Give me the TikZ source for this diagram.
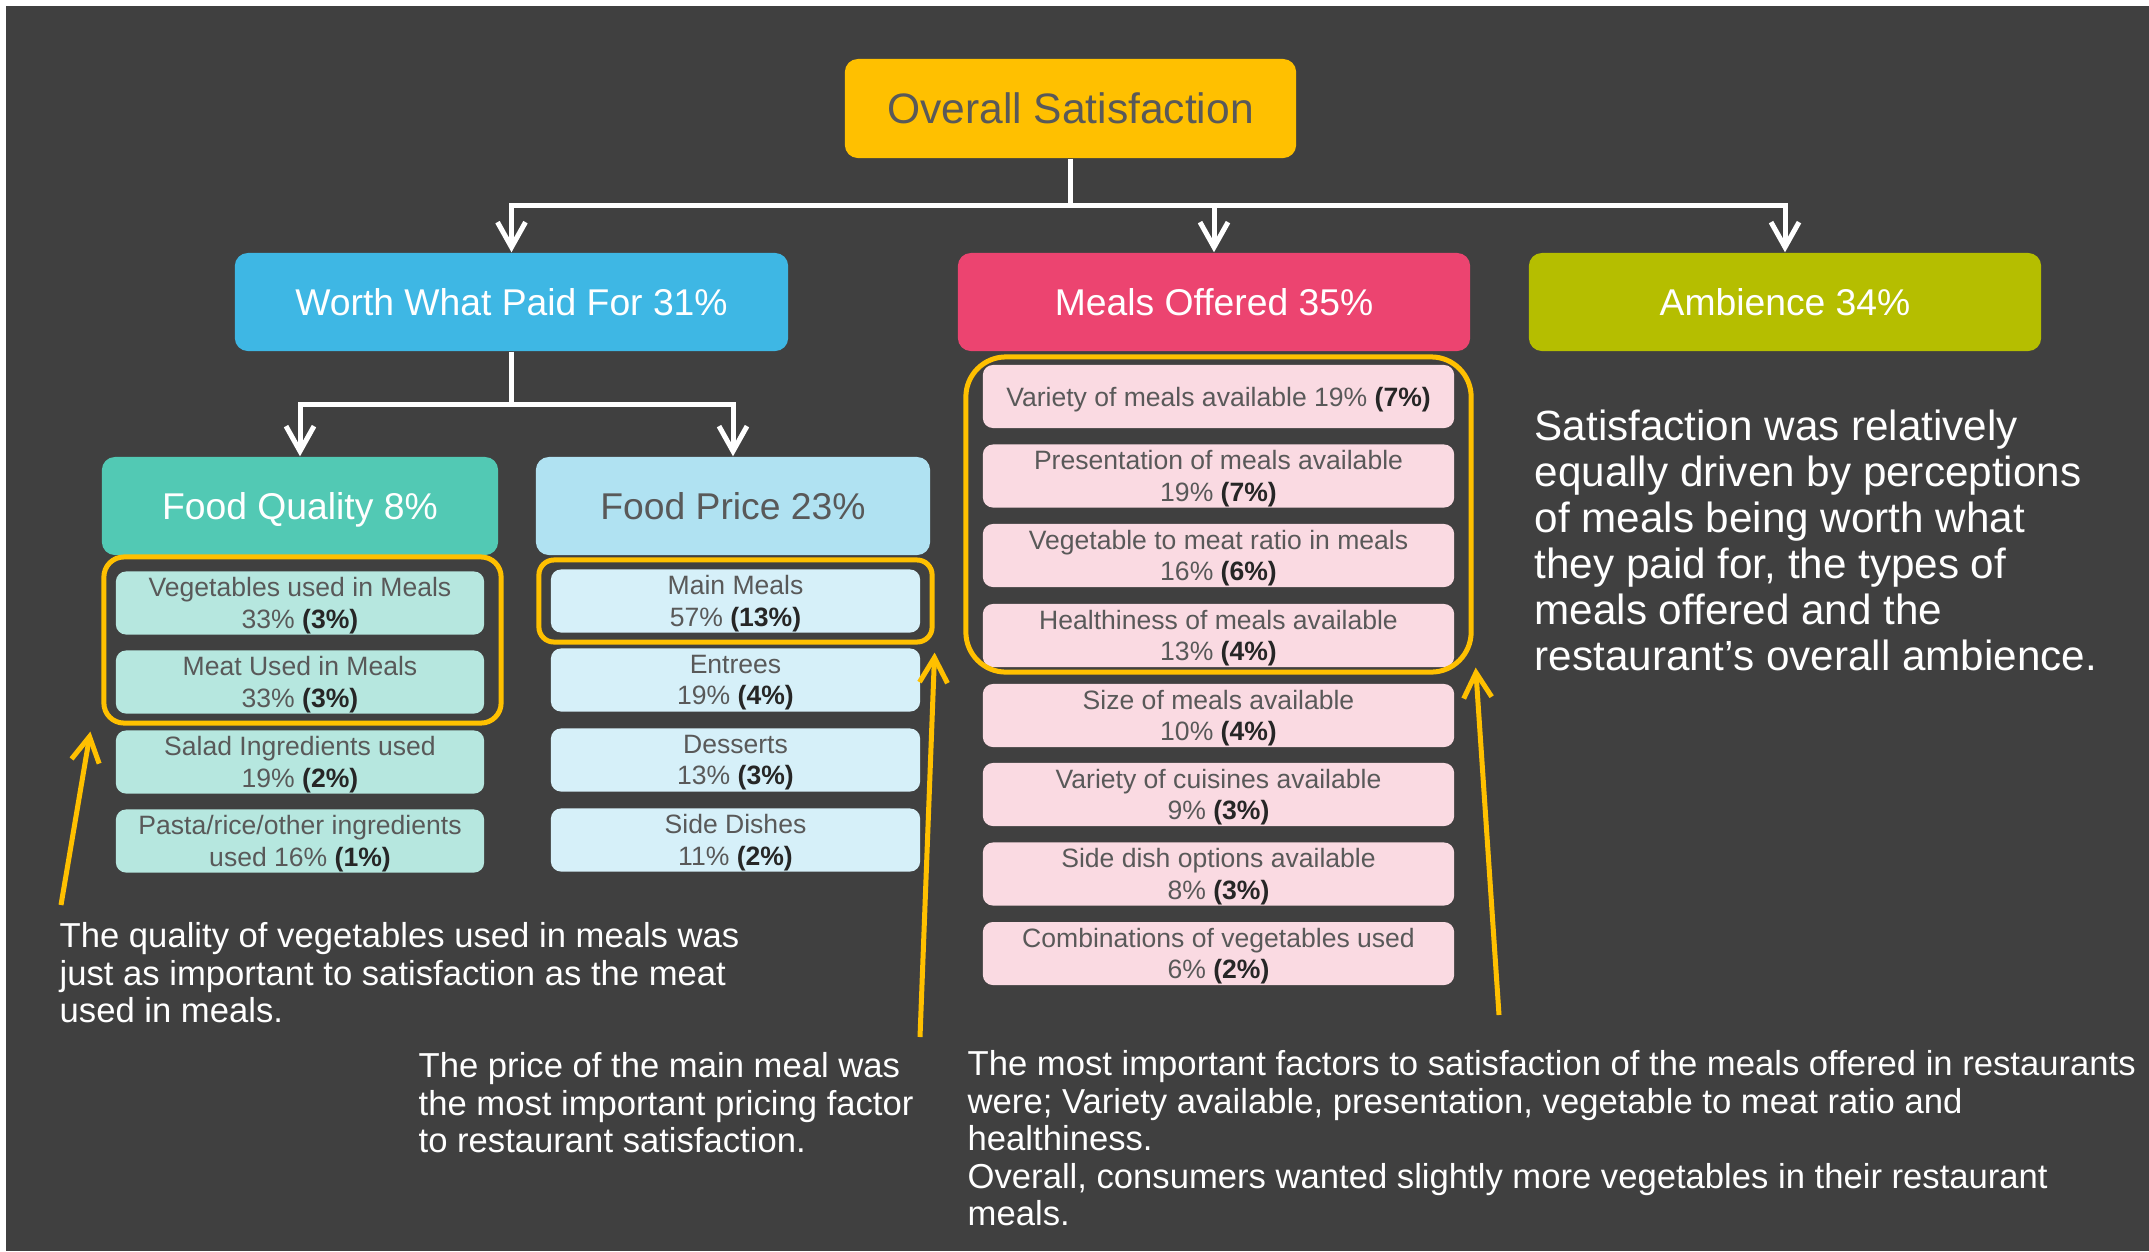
\documentclass[tikz,border=0pt]{standalone}
\usepackage{fontspec}
\setmainfont{Liberation Sans}
\usepackage{tikz}
\usetikzlibrary{arrows.meta,positioning,calc}
\definecolor{bgdark}{HTML}{404040}
\definecolor{gold}{HTML}{FFC000}
\definecolor{txtgray}{HTML}{595959}
\definecolor{txtdark}{HTML}{262626}
\definecolor{worthblue}{HTML}{3EB7E4}
\definecolor{mealred}{HTML}{EC4470}
\definecolor{ambgreen}{HTML}{B5BE00}
\definecolor{qualgreen}{HTML}{52C9B4}
\definecolor{priceblue}{HTML}{B0E2F2}
\definecolor{qualsub}{HTML}{B6E7DF}
\definecolor{pricesub}{HTML}{D6F0F9}
\definecolor{mealsub}{HTML}{FADAE2}
\newcommand{\pc}[1]{\textbf{\color{txtdark}#1}}

\begin{document}
\begin{tikzpicture}[x=0.01cm, y=-0.01cm,
  root/.style={rounded corners=1.3mm, fill=gold, text=txtgray,
    minimum width=4.51cm, minimum height=0.99cm, text depth=0pt,
    font=\fontsize{12.1}{14}\selectfont},
  branch/.style={rounded corners=1.3mm, text=white, text depth=0pt,
    minimum width=5.12cm, minimum height=0.98cm,
    font=\fontsize{10.6}{12.6}\selectfont},
  factor/.style={rounded corners=1.3mm, minimum width=3.96cm, text depth=0pt,
    minimum height=0.98cm, font=\fontsize{10.6}{12.6}\selectfont},
  leaf/.style={rounded corners=1mm, text=txtgray, align=center,
    inner sep=0pt, minimum height=0.63cm, text depth=0pt,
    font=\fontsize{7.55}{9}\selectfont},
  ring/.style={draw=gold, line width=0.05cm},
  link/.style={draw=white, line width=0.05cm,
    -{Straight Barb[length=2.5mm, width=2.8mm]}},
  pointer/.style={draw=gold, line width=0.05cm,
    -{Straight Barb[length=2.5mm, width=2.8mm]}},
  note/.style={text=white, align=left, inner sep=0pt, anchor=north west,
    font=\fontsize{9.85}{10.67}\selectfont}
]
  \useasboundingbox (0,0) rectangle (2149,1251);
  \fill[white] (0,0) rectangle (2149,1251);
  \fill[bgdark] (6,6) rectangle (2149,1251);

  % Hierarchy
  \node[root] (overall) at (1070.5,108.5) {Overall Satisfaction};
  \node[branch, fill=worthblue, minimum width=5.53cm] (worth) at (511.5,302) {Worth What Paid For 31\%};
  \node[branch, fill=mealred] (meals) at (1214,302) {Meals Offered 35\%};
  \node[branch, fill=ambgreen] (ambience) at (1785,302) {Ambience 34\%};
  \node[factor, fill=qualgreen, text=white] (quality) at (300,506) {Food Quality 8\%};
  \node[factor, fill=priceblue, text=txtgray, minimum width=3.94cm] (price) at (733,506) {Food Price 23\%};

  % Tree arrows
  \coordinate (bus) at (1070.5,205);
  \coordinate (bus2) at (511.5,404);
  \draw[link] (overall.south) -- (bus) -| (worth.north);
  \draw[link] (bus) -| (meals.north);
  \draw[link] (bus) -| (ambience.north);
  \draw[link] (worth.south) -- (bus2) -| (quality.north);
  \draw[link] (bus2) -| (price.north);

  % Food quality items
  \node[leaf, fill=qualsub, minimum width=3.68cm] (veg) at (300,603) {Vegetables used in Meals\\33\% \pc{(3\%)}};
  \node[leaf, fill=qualsub, minimum width=3.68cm] (meat) at (300,682) {Meat Used in Meals\\33\% \pc{(3\%)}};
  \node[leaf, fill=qualsub, minimum width=3.68cm] (salad) at (300,762) {Salad Ingredients used\\19\% \pc{(2\%)}};
  \node[leaf, fill=qualsub, minimum width=3.68cm] (pasta) at (300,841) {Pasta/rice/other ingredients\\used 16\% \pc{(1\%)}};

  % Food price items
  \node[leaf, fill=pricesub, minimum width=3.69cm] (mainm) at (735.5,601) {Main Meals\\57\% \pc{(13\%)}};
  \node[leaf, fill=pricesub, minimum width=3.69cm] (entree) at (735.5,680) {Entrees\\19\% \pc{(4\%)}};
  \node[leaf, fill=pricesub, minimum width=3.69cm] (dessert) at (735.5,760) {Desserts\\13\% \pc{(3\%)}};
  \node[leaf, fill=pricesub, minimum width=3.69cm] (sided) at (735.5,840) {Side Dishes\\11\% \pc{(2\%)}};

  % Meals offered items
  \node[leaf, fill=mealsub, minimum width=4.71cm] (mvar) at (1218.5,396.5) {Variety of meals available 19\% \pc{(7\%)}};
  \node[leaf, fill=mealsub, minimum width=4.71cm] (mpres) at (1218.5,476) {Presentation of meals available\\19\% \pc{(7\%)}};
  \node[leaf, fill=mealsub, minimum width=4.71cm] (mratio) at (1218.5,555.5) {Vegetable to meat ratio in meals\\16\% \pc{(6\%)}};
  \node[leaf, fill=mealsub, minimum width=4.71cm] (mhealth) at (1218.5,635.5) {Healthiness of meals available\\13\% \pc{(4\%)}};
  \node[leaf, fill=mealsub, minimum width=4.71cm] (msize) at (1218.5,715.5) {Size of meals available\\10\% \pc{(4\%)}};
  \node[leaf, fill=mealsub, minimum width=4.71cm] (mcuis) at (1218.5,794.5) {Variety of cuisines available\\9\% \pc{(3\%)}};
  \node[leaf, fill=mealsub, minimum width=4.71cm] (mside) at (1218.5,874) {Side dish options available\\8\% \pc{(3\%)}};
  \node[leaf, fill=mealsub, minimum width=4.71cm] (mcomb) at (1218.5,953.5) {Combinations of vegetables used\\6\% \pc{(2\%)}};

  % Highlights
  \node[ring, rounded corners=2mm, minimum width=3.97cm, minimum height=1.66cm] (hlq) at (302.5,640) {};
  \node[ring, rounded corners=1.5mm, minimum width=3.93cm, minimum height=0.82cm] (hlp) at (735.5,601) {};
  \node[ring, rounded corners=4mm, minimum width=5.05cm, minimum height=3.15cm] (hlm) at (1218.5,514.5) {};

  % Notes
  \node[note] (qnote) at (59,922) {The quality of vegetables used in meals was\\just as important to satisfaction as the meat\\used in meals.};
  \node[note] (pnote) at (418,1052) {The price of the main meal was\\the most important pricing factor\\to restaurant satisfaction.};
  \node[note] (mnote) at (967,1050) {The most important factors to satisfaction of the meals offered in restaurants\\were; Variety available, presentation, vegetable to meat ratio and\\healthiness.\\Overall, consumers wanted slightly more vegetables in their restaurant\\meals.};
  \node[note, font=\fontsize{12}{13.1}\selectfont] (summary) at (1534,409) {Satisfaction was relatively\\equally driven by perceptions\\of meals being worth what\\they paid for, the types of\\meals offered and the\\restaurant’s overall ambience.};

  % Pointers
  \coordinate (qtail) at (61,905);
  \coordinate (ptail) at (920,1037);
  \coordinate (mtail) at (1499,1015);
  \draw[pointer] (qtail) -- ([shift={(-11,6)}]hlq.south west);
  \draw[pointer] (ptail) -- ([shift={(0,8)}]hlp.south east);
  \draw[pointer] (mtail) -- ([shift={(2,-7)}]hlm.south east);
\end{tikzpicture}
\end{document}
